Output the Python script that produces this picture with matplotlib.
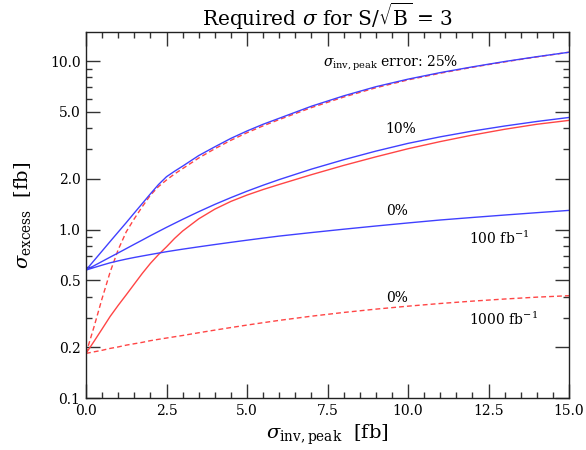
import matplotlib
matplotlib.use('Agg')
import matplotlib.pyplot as plt
from matplotlib.ticker import FixedLocator, MultipleLocator, FormatStrFormatter, NullFormatter

plt.rcParams['font.family'] = ['DejaVu Serif']
plt.rcParams['mathtext.fontset'] = 'dejavuserif'

# sigma_inv,peak [fb]
sig_inv = [0, 0.25, 0.5, 0.75, 1.0, 1.25, 1.5, 1.75, 2.0, 2.25, 2.5, 2.75, 3.0, 3.5, 4.0, 4.5,
           5.0, 5.5, 6.0, 7.0, 8.0, 9.0, 10.0, 11.0, 12.0, 13.0, 14.0, 15.0]

# 100 fb^-1 (blue, solid), sigma_excess [fb]
blue_0 = [0.575, 0.595, 0.615, 0.635, 0.652, 0.668, 0.683, 0.697, 0.711, 0.725, 0.739, 0.752, 0.765,
          0.79, 0.815, 0.84, 0.865, 0.89, 0.915, 0.96, 1.005, 1.05, 1.095, 1.14, 1.18, 1.22, 1.26, 1.3]
blue_10 = [0.575, 0.61, 0.647, 0.686, 0.727, 0.771, 0.818, 0.867, 0.92, 0.974, 1.031, 1.089, 1.15,
           1.277, 1.411, 1.548, 1.69, 1.834, 1.981, 2.285, 2.598, 2.923, 3.25, 3.554, 3.845, 4.12, 4.384, 4.632]
blue_25 = [0.575, 0.655, 0.746, 0.85, 0.967, 1.10, 1.255, 1.43, 1.63, 1.85, 2.06, 2.22, 2.38,
           2.75, 3.1, 3.48, 3.85, 4.22, 4.58, 5.4, 6.22, 7.05, 7.82, 8.55, 9.25, 9.95, 10.63, 11.3]

# 1000 fb^-1 (red)
red_0 = [0.184, 0.188, 0.192, 0.197, 0.201, 0.206, 0.210, 0.214, 0.219, 0.223, 0.227, 0.231, 0.235,
         0.244, 0.253, 0.262, 0.271, 0.28, 0.289, 0.306, 0.322, 0.337, 0.351, 0.364, 0.376, 0.387, 0.397, 0.405]
red_10 = [0.184, 0.217, 0.257, 0.305, 0.355, 0.41, 0.475, 0.55, 0.63, 0.71, 0.79, 0.886, 0.98,
          1.158, 1.322, 1.47, 1.603, 1.729, 1.853, 2.118, 2.404, 2.703, 3.02, 3.33, 3.64, 3.94, 4.22, 4.45]
red_25 = [0.184, 0.265, 0.39, 0.56, 0.76, 0.97, 1.16, 1.37, 1.6, 1.8, 1.97, 2.14, 2.3,
          2.66, 3.02, 3.39, 3.76, 4.13, 4.5, 5.3, 6.12, 6.95, 7.74, 8.48, 9.2, 9.9, 10.6, 11.3]

y_major = [0.1, 0.2, 0.5, 1.0, 2.0, 5.0, 10.0]
y_minor = [0.3, 0.4, 0.6, 0.7, 0.8, 0.9, 3, 4, 6, 7, 8, 9]

blue = '#4040ff'
red = '#ff4545'
dash = (0, (3.5, 2.2))

fig = plt.figure(figsize=(5.86, 4.5), dpi=100)
ax = fig.add_axes([86/586, 1-398/450, (569-86)/586, (398-32)/450])

ax.plot(sig_inv, red_0, color=red, lw=1.0, linestyle=dash)
ax.plot(sig_inv, red_10, color=red, lw=1.0)
ax.plot(sig_inv, red_25, color=red, lw=1.0, linestyle=dash)
ax.plot(sig_inv, blue_0, color=blue, lw=1.0)
ax.plot(sig_inv, blue_10, color=blue, lw=1.0)
ax.plot(sig_inv, blue_25, color=blue, lw=1.0)

ax.set_yscale('log')
ax.set_xlim(0, 15)
ax.set_ylim(0.1, 14.9)

ax.yaxis.set_major_locator(FixedLocator(y_major))
ax.yaxis.set_minor_locator(FixedLocator(y_minor))
ax.yaxis.set_major_formatter(FormatStrFormatter('%.1f'))
ax.yaxis.set_minor_formatter(NullFormatter())
ax.xaxis.set_major_locator(MultipleLocator(2.5))
ax.xaxis.set_minor_locator(MultipleLocator(0.5))
ax.xaxis.set_major_formatter(FormatStrFormatter('%.1f'))

ax.tick_params(which='both', direction='in', top=True, right=True, width=1.0, color='#333333')
ax.tick_params(which='major', length=10, labelsize=10, pad=4)
ax.tick_params(which='minor', length=4)
for s in ax.spines.values():
    s.set_linewidth(1.0)
    s.set_color('#222222')

# curve labels
ax.text(7.35, 9.7, r'$\sigma_{\rm inv,peak}$ error: 25%', fontsize=10, ha='left', va='center')
ax.text(9.78, 3.94, '10%', fontsize=10, ha='center', va='center')
ax.text(9.66, 1.29, '0%', fontsize=10, ha='center', va='center')
ax.text(11.9, 0.885, r'100 fb$^{-1}$', fontsize=10, ha='left', va='center')
ax.text(9.66, 0.394, '0%', fontsize=10, ha='center', va='center')
ax.text(11.9, 0.295, r'1000 fb$^{-1}$', fontsize=10, ha='left', va='center')

fig.text(0.559, 1-16/450, r'Required $\sigma$ for S/$\sqrt{\rm B}$ = 3', fontsize=14.5,
         ha='center', va='center')
ax.set_xlabel(r'$\sigma_{\rm inv,peak}$  [fb]', fontsize=14, labelpad=4)
ax.set_ylabel(r'$\sigma_{\rm excess}$  [fb]', fontsize=14, labelpad=12)

fig.savefig('out.png', dpi=100)
